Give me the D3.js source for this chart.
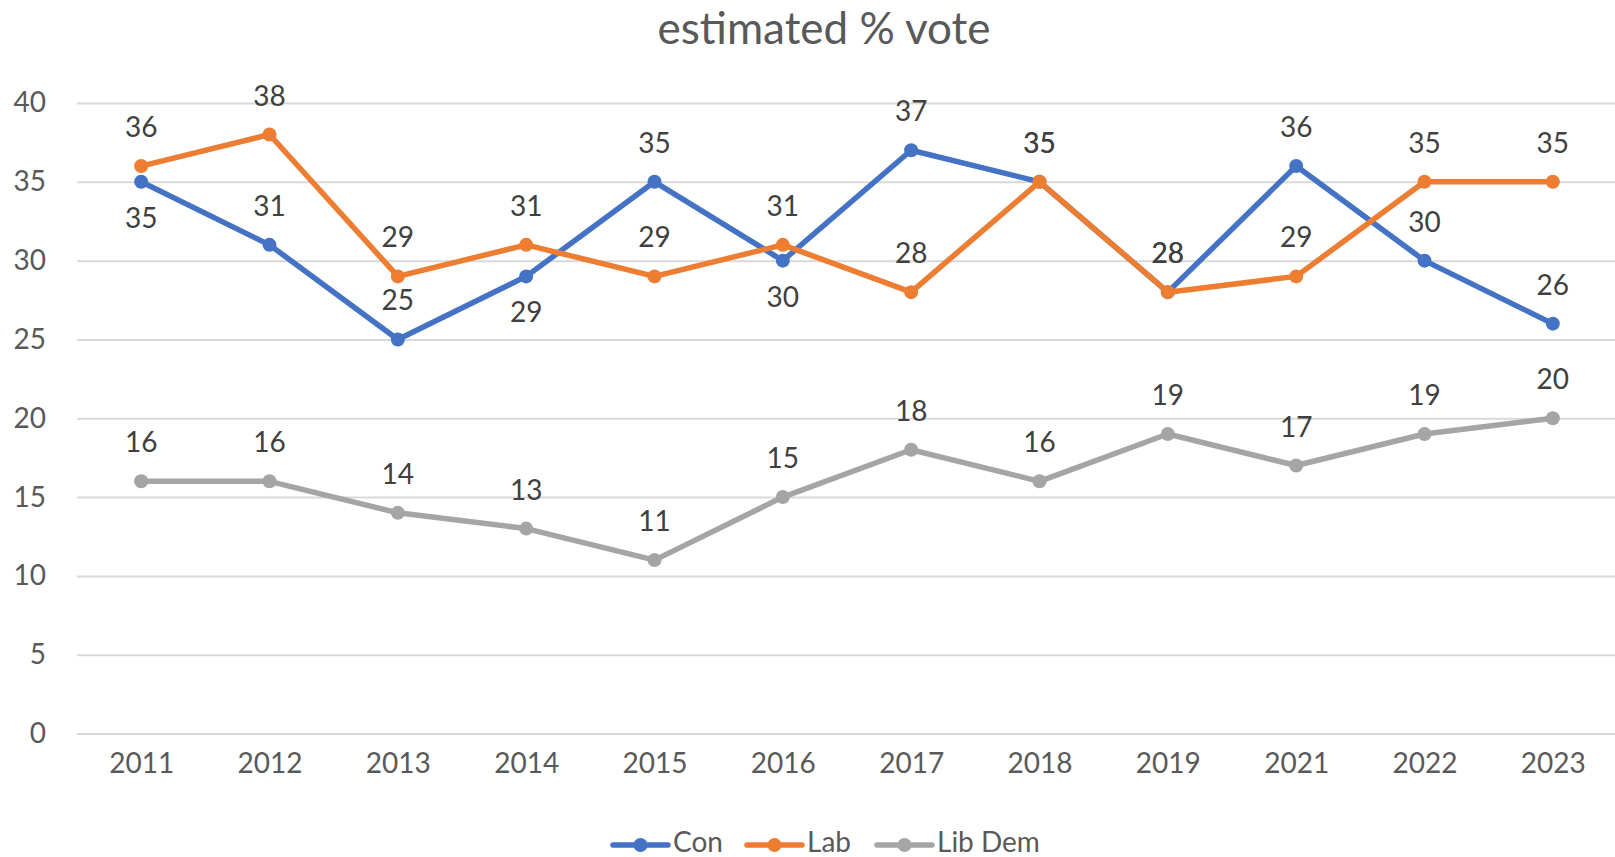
<!DOCTYPE html>
<html>
<head>
<meta charset="utf-8">
<script src="https://cdn.jsdelivr.net/npm/d3@7"></script>
<style>
  html, body { margin: 0; padding: 0; background: #ffffff; }
  svg { display: block; font-family: Lato, "Open Sans", sans-serif; }
</style>
</head>
<body>
<svg id="chart" width="1615" height="857"></svg>
<script>
// Survey years and estimated vote share per party
const years = ["2011", "2012", "2013", "2014", "2015", "2016", "2017", "2018", "2019", "2021", "2022", "2023"];
const con = [35, 31, 25, 29, 35, 30, 37, 35, 28, 36, 30, 26];
const lab = [36, 38, 29, 31, 29, 31, 28, 35, 28, 29, 35, 35];
const libDem = [16, 16, 14, 13, 11, 15, 18, 16, 19, 17, 19, 20];
const yTicks = [0, 5, 10, 15, 20, 25, 30, 35, 40];
const conLabelsBelow = ["2011", "2014", "2016"];

const series = [
  { name: "Con", values: con, color: "#4472C4" },
  { name: "Lab", values: lab, color: "#ED7D31" },
  { name: "Lib Dem", values: libDem, color: "#A5A5A5" }
];

const svg = d3.select("#chart");

const x = d3.scalePoint().domain(years).range([77, 1617]).padding(0.5);
const y = d3.scaleLinear().domain([0, 40]).range([733.5, 103]);

// Title
svg.append("text")
  .attr("x", 824).attr("y", 44)
  .attr("text-anchor", "middle")
  .attr("fill", "#595959")
  .style("font-size", "44px")
  .text("estimated % vote");

// Horizontal gridlines with y-axis labels
const yAxis = d3.axisLeft(y).tickValues(yTicks).tickSize(-(1615 - 77)).tickPadding(31);
const gy = svg.append("g").attr("transform", "translate(77,0)").call(yAxis);
gy.select(".domain").remove();
gy.selectAll(".tick line").attr("stroke", "#d9d9d9").attr("stroke-width", 2);
gy.selectAll(".tick text")
  .attr("fill", "#595959")
  .style("font-size", "28px")
  .style("font-family", "Lato, 'Open Sans', sans-serif");

// Category axis labels
const xAxis = d3.axisBottom(x).tickSize(0).tickPadding(20);
const gx = svg.append("g").attr("transform", `translate(0,${y(0)})`).call(xAxis);
gx.select(".domain").remove();
gx.selectAll(".tick text")
  .attr("fill", "#595959")
  .style("font-size", "28px")
  .style("font-family", "Lato, 'Open Sans', sans-serif");

// Lines and markers
const line = d3.line().x((d, i) => x(years[i])).y(d => y(d));

series.forEach(s => {
  const g = svg.append("g");
  g.append("path")
    .datum(s.values)
    .attr("d", line)
    .attr("fill", "none")
    .attr("stroke", s.color)
    .attr("stroke-width", 5.5)
    .attr("stroke-linejoin", "round")
    .attr("stroke-linecap", "round");
  g.selectAll("circle")
    .data(s.values)
    .join("circle")
    .attr("cx", (d, i) => x(years[i]))
    .attr("cy", d => y(d))
    .attr("r", 7)
    .attr("fill", s.color);
});

// Data labels
series.forEach(s => {
  svg.append("g").selectAll("text")
    .data(s.values)
    .join("text")
    .attr("x", (d, i) => x(years[i]))
    .attr("y", (d, i) => {
      const below = s.name === "Con" && conLabelsBelow.includes(years[i]);
      return below ? y(d) + 46 : y(d) - 29;
    })
    .attr("text-anchor", "middle")
    .attr("fill", "#404040")
    .style("font-size", "28px")
    .text(d => d);
});

// Legend
const legendItems = [
  { name: "Con", color: "#4472C4", x0: 613 },
  { name: "Lab", color: "#ED7D31", x0: 747 },
  { name: "Lib Dem", color: "#A5A5A5", x0: 877 }
];
const lg = svg.append("g");
legendItems.forEach(it => {
  lg.append("line")
    .attr("x1", it.x0).attr("x2", it.x0 + 55)
    .attr("y1", 845).attr("y2", 845)
    .attr("stroke", it.color).attr("stroke-width", 5.5)
    .attr("stroke-linecap", "round");
  lg.append("circle")
    .attr("cx", it.x0 + 27.5).attr("cy", 845).attr("r", 7)
    .attr("fill", it.color);
  lg.append("text")
    .attr("x", it.x0 + 60).attr("y", 852)
    .attr("fill", "#595959")
    .style("font-size", "28px")
    .text(it.name);
});
</script>
</body>
</html>
